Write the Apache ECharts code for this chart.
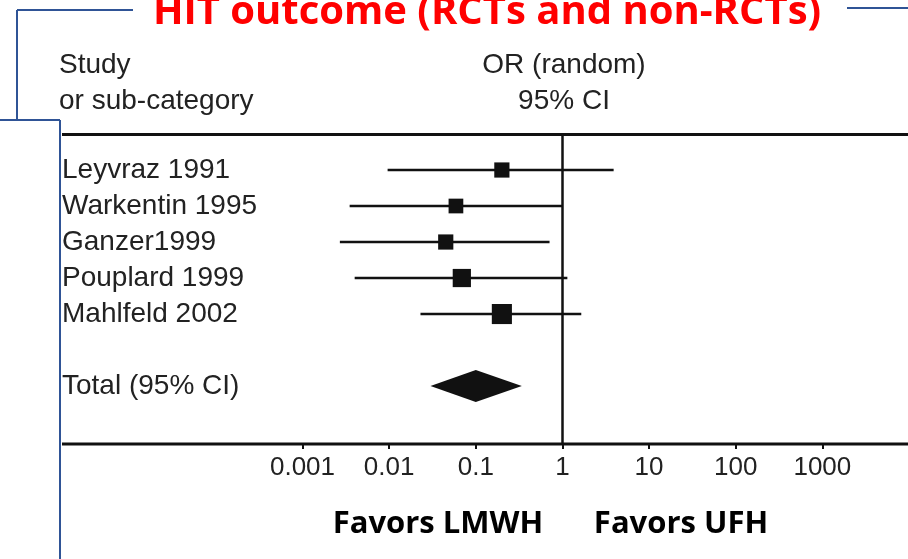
<!DOCTYPE html>
<html>
<head>
<meta charset="utf-8">
<script src="https://cdn.jsdelivr.net/npm/echarts@6/dist/echarts.min.js"></script>
<style>
  html, body { margin: 0; padding: 0; background: #fff; overflow: hidden; }
  #main { width: 912px; height: 559px; }
</style>
</head>
<body>
<div id="main"></div>
<script>
// forest plot data (odds ratios, log scale)
var studies = ['Leyvraz 1991', 'Warkentin 1995', 'Ganzer1999', 'Pouplard 1999', 'Mahlfeld 2002'];
var oddsRatio = [0.20, 0.059, 0.045, 0.069, 0.20];
var ciLow = [0.0096, 0.0035, 0.0027, 0.0040, 0.023];
var ciHigh = [3.9, 1.0, 0.71, 1.14, 1.65];
var weights = [16, 15, 16, 23, 28];   // relative box area
var totalLabel = 'Total (95% CI)';
var totalOR = [0.10];
var totalLow = [0.030];
var totalHigh = [0.34];
var tickLabels = ['0.001', '0.01', '0.1', '1', '10', '100', '1000'];

var rowLabels = studies.concat(['', totalLabel]);
var totalRow = studies.length + 1;

var studyData = studies.map(function (s, i) {
    return [ciLow[i], ciHigh[i], oddsRatio[i], i, weights[i]];
});
var totalData = [[totalLow[0], totalHigh[0], totalOR[0], totalRow]];

var ink = '#111';
var blue = '#2f5496';
var gridLeft = 302.5;

var myChart = echarts.init(document.getElementById('main'));

function renderStudy(params, api) {
    var y = api.value(3);
    var a = api.coord([api.value(0), y]);
    var b = api.coord([api.value(1), y]);
    var c = api.coord([api.value(2), y]);
    var s = 3.8 * Math.sqrt(api.value(4));
    return {
        type: 'group',
        children: [
            { type: 'line', shape: { x1: a[0], y1: a[1], x2: b[0], y2: b[1] }, style: { stroke: ink, lineWidth: 2.6 } },
            { type: 'rect', shape: { x: c[0] - s / 2, y: c[1] - s / 2, width: s, height: s }, style: { fill: ink } }
        ]
    };
}

function renderDiamond(params, api) {
    var y = api.value(3);
    var a = api.coord([api.value(0), y]);
    var b = api.coord([api.value(1), y]);
    var c = api.coord([api.value(2), y]);
    var h = 16;
    return {
        type: 'polygon',
        shape: { points: [[a[0], a[1]], [c[0], c[1] - h], [b[0], b[1]], [c[0], c[1] + h]] },
        style: { fill: ink }
    };
}

function txt(text, x, y, size, opts) {
    opts = opts || {};
    return {
        type: 'text', x: x, y: y, silent: true,
        style: {
            text: text,
            fill: opts.color || '#222',
            fontSize: size,
            fontFamily: opts.family || 'Liberation Sans',
            fontWeight: opts.weight || 'normal',
            textAlign: opts.align || 'left',
            textVerticalAlign: 'middle'
        }
    };
}

function seg(x1, y1, x2, y2, color, w) {
    return { type: 'line', silent: true, shape: { x1: x1, y1: y1, x2: x2, y2: y2 }, style: { stroke: color, lineWidth: w } };
}

option = {
    backgroundColor: '#fff',
    animation: false,
    grid: { left: gridLeft, right: 0.5, top: 134, bottom: 115 },
    xAxis: {
        type: 'log',
        logBase: 10,
        min: 0.001,
        max: 10000,
        splitNumber: 7,
        axisLine: { show: false, onZero: false },
        axisTick: { show: true, length: 5, lineStyle: { color: ink, width: 2 } },
        splitLine: { show: false },
        axisLabel: {
            margin: 11,
            fontSize: 26,
            fontFamily: 'Liberation Sans',
            color: '#222',
            formatter: function (v) {
                var i = Math.round(Math.log10(v)) + 3;
                return tickLabels[i] || '';
            }
        }
    },
    yAxis: {
        type: 'value',
        inverse: true,
        min: -1,
        max: 7.61,
        interval: 1,
        axisLine: { show: false },
        axisTick: { show: false },
        splitLine: { show: false },
        axisLabel: {
            align: 'left',
            margin: gridLeft - 62,
            fontSize: 28,
            fontFamily: 'Liberation Sans',
            color: '#222',
            padding: [6, 0, 0, 0],
            formatter: function (v) {
                return (v >= 0 && v === Math.round(v)) ? (rowLabels[v] || '') : '';
            }
        }
    },
    graphic: [
        // frame lines of the slide
        seg(17, 10, 133, 10, blue, 2),
        seg(17, 10, 17, 120, blue, 2),
        seg(0, 120, 60, 120, blue, 2),
        seg(60, 120, 60, 559, blue, 2),
        seg(847, 8, 912, 8, blue, 2),
        // plot rules
        seg(62, 134.5, 912, 134.5, ink, 3),
        seg(62, 444, 912, 444, ink, 3),
        txt('HIT outcome (RCTs and non-RCTs)', 487, 13, 40, { color: '#ff0000', family: 'Open Sans', weight: 'bold', align: 'center' }),
        txt('Study', 59, 65, 28),
        txt('or sub-category', 59, 101, 28),
        txt('OR (random)', 564, 65, 28, { align: 'center' }),
        txt('95% CI', 564, 101, 28, { align: 'center' }),
        txt('Favors LMWH', 438, 524, 31, { color: '#000', family: 'Open Sans', weight: 'bold', align: 'center' }),
        txt('Favors UFH', 681, 524, 31, { color: '#000', family: 'Open Sans', weight: 'bold', align: 'center' })
    ],
    series: [
        {
            name: 'studies',
            type: 'custom',
            renderItem: renderStudy,
            encode: { x: [0, 1, 2], y: 3 },
            data: studyData,
            markLine: {
                silent: true,
                symbol: 'none',
                label: { show: false },
                lineStyle: { color: ink, width: 2.5, type: 'solid' },
                data: [{ xAxis: 1 }]
            }
        },
        {
            name: 'total',
            type: 'custom',
            renderItem: renderDiamond,
            encode: { x: [0, 1, 2], y: 3 },
            data: totalData
        }
    ]
};

myChart.setOption(option);
</script>
</body>
</html>
